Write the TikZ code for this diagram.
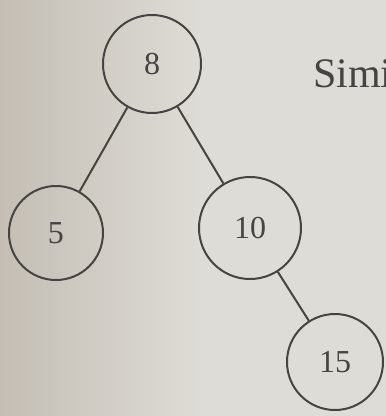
\documentclass[tikz,border=0pt]{standalone}
\usepackage{fontspec}
\setmainfont{Liberation Serif}
\definecolor{ink}{RGB}{70,68,66}
\definecolor{paperdark}{RGB}{196,190,180}
\definecolor{paperlight}{RGB}{222,220,214}
\begin{document}
\begin{tikzpicture}[x=1pt,y=-1pt,
    vertex/.style={circle,draw=ink,line width=2pt,minimum size=98pt,
      inner sep=0pt,text=ink,font=\fontsize{32}{32}\selectfont}]
      \useasboundingbox (0,0) rectangle (386,416);
      \clip (0,0) rectangle (386,416);
      \shade[left color=paperdark,right color=paperlight] (0,0) rectangle (200,416);
      \fill[paperlight] (200,0) rectangle (386,416);
      \draw
        (152,64) node[vertex] (8){8}
        (56,233) node[vertex,minimum size=94pt] (5){5}
        (250,228) node[vertex,minimum size=102pt] (10){10}
        (335,362) node[vertex,minimum size=96pt] (15){15};
      \node[anchor=base west,inner sep=0pt,text=ink,
        font=\fontsize{42}{42}\selectfont] (simi) at (313,87) {Simi};
      \begin{scope}[-,draw=ink,line width=2pt]
        \draw (8) to (5);
        \draw (8) to (10);
        \draw (10) to (15);
      \end{scope}
    \end{tikzpicture}
\end{document}
